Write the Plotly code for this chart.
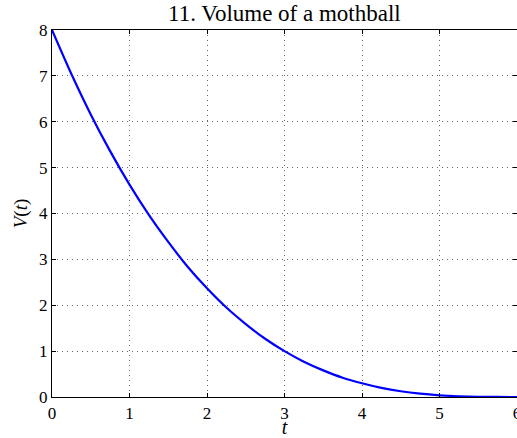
import plotly.graph_objects as go

t_vals = [0, 0.25, 0.5, 0.75, 1, 1.25, 1.5, 1.75, 2, 2.25, 2.5, 2.75, 3,
          3.25, 3.5, 3.75, 4, 4.25, 4.5, 4.75, 5, 5.25, 5.5, 5.75, 6]
v_vals = [8.0, 7.04, 6.16, 5.36, 4.63, 3.97, 3.38, 2.84, 2.37, 1.95, 1.59, 1.27, 1.0,
          0.77, 0.58, 0.42, 0.30, 0.20, 0.125, 0.072, 0.037, 0.016, 0.005, 0.001, 0.0]
x_ticks = [0, 1, 2, 3, 4, 5, 6]
y_ticks = [0, 1, 2, 3, 4, 5, 6, 7, 8]

font_family = "Liberation Serif, DejaVu Serif, serif"

fig = go.Figure()
fig.add_trace(go.Scatter(x=t_vals, y=v_vals, mode="lines",
                         line=dict(color="#0000ff", width=2.2, shape="spline", smoothing=0.6),
                         showlegend=False, cliponaxis=False))

axis_common = dict(
    showline=True, linecolor="black", linewidth=1.3, mirror="ticks",
    ticks="inside", ticklen=4, tickcolor="black", automargin=False,
    ticklabeloverflow="allow",
    showgrid=True, gridcolor="#666666", gridwidth=1, griddash="1px,4px",
    zeroline=False, tickfont=dict(family=font_family, size=17, color="black"),
)

fig.update_layout(
    width=517, height=438,
    margin=dict(l=52, r=0, t=30, b=41),
    paper_bgcolor="white", plot_bgcolor="white",
    xaxis=dict(range=[0, 6], tickvals=x_ticks, ticktext=[str(v) for v in x_ticks],
               title=dict(text="<i>t</i>", standoff=2,
                          font=dict(family=font_family, size=20, color="black")),
               **axis_common),
    yaxis=dict(range=[0, 8], tickvals=y_ticks, ticktext=[str(v) for v in y_ticks],
               title=dict(text="<i>V</i>(<i>t</i>)", standoff=6,
                          font=dict(family=font_family, size=19, color="black")),
               **axis_common),
    annotations=[dict(text="11. Volume of a mothball", xref="paper", yref="paper",
                      x=0.5, y=1, xanchor="center", yanchor="middle", yshift=17,
                      showarrow=False,
                      font=dict(family=font_family, size=23, color="black"))],
)

fig.write_html("out.html", config={"displayModeBar": False},
               post_script="document.body.style.margin='0';")
